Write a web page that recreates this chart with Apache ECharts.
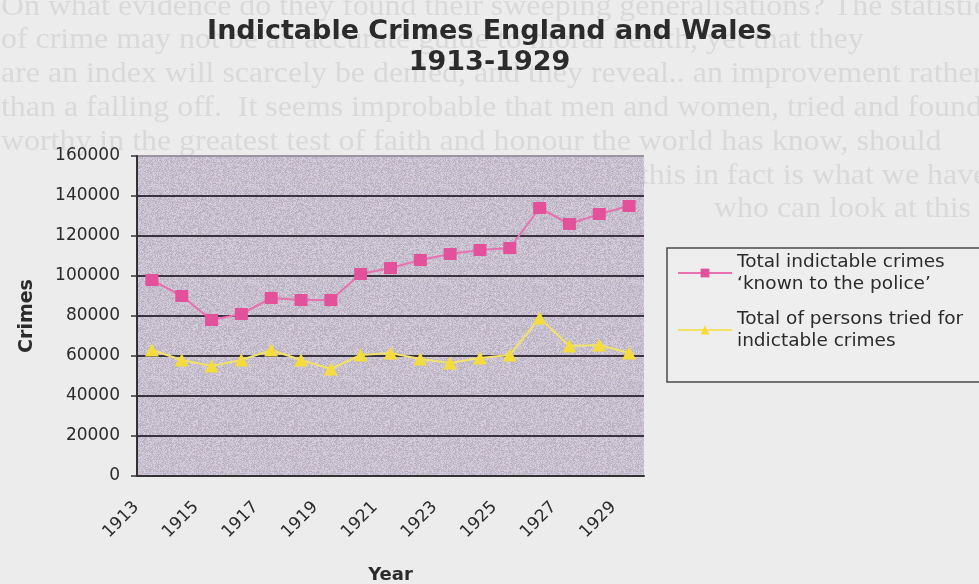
<!DOCTYPE html>
<html>
<head>
<meta charset="utf-8">
<script src="https://cdn.jsdelivr.net/npm/echarts@6/dist/echarts.min.js"></script>
<style>
  html, body { margin: 0; padding: 0; background: #ececec; }
  #chart { width: 979px; height: 584px; }
</style>
</head>
<body>
<div id="chart"></div>
<script>
// Indictable crimes in England and Wales, 1913-1929
const years = ['1913', '1914', '1915', '1916', '1917', '1918', '1919', '1920', '1921',
               '1922', '1923', '1924', '1925', '1926', '1927', '1928', '1929'];
const knownToPolice = [98000, 90000, 78000, 81000, 89000, 88000, 88000, 101000, 104000,
                       108000, 111000, 113000, 114000, 134000, 126000, 131000, 135000];
const personsTried = [63000, 58000, 55000, 58000, 63000, 58000, 53500, 60500, 61500,
                      58500, 56500, 59000, 60500, 79000, 65000, 65500, 61500];
const seriesNames = ['Total indictable crimes\n\u2018known to the police\u2019',
                     'Total of persons tried for\nindictable crimes'];
const yMin = 0, yMax = 160000, yStep = 20000;

// faint print of the page the chart sits on: [text, left, line number]
const pageLines = [
  ['On what evidence do they found their sweeping generalisations? The statistics', 1, 0],
  ['of crime may not be an accurate guide to moral health, yet that they', 1, 1],
  ['are an index will scarcely be denied, and they reveal.. an improvement rather', 1, 2],
  ['than a falling off.  It seems improbable that men and women, tried and found', 1, 3],
  ['worthy in the greatest test of faith and honour the world has know, should', 1, 4],
  ['this in fact is what we have been', 640, 5],
  ['who can look at this modern', 714, 6]
];

// speckled fill for the plot area (hashed, repeatable)
function speckle() {
  const c = document.createElement('canvas');
  c.width = 96; c.height = 96;
  const ctx = c.getContext('2d');
  const img = ctx.createImageData(96, 96);
  for (let y = 0; y < 96; y++) {
    for (let x = 0; x < 96; x++) {
      let h = Math.imul(x + 17, 374761393) ^ Math.imul(y + 91, 668265263);
      h = Math.imul(h ^ (h >>> 13), 1274126177);
      h = (h ^ (h >>> 16)) >>> 0;
      const n = ((h & 255) / 255 - 0.5) * 38;
      const t = (((h >>> 8) & 255) / 255 - 0.5) * 10;
      const i = (y * 96 + x) * 4;
      img.data[i] = 199 + n + t;
      img.data[i + 1] = 191 + n;
      img.data[i + 2] = 206 + n - t;
      img.data[i + 3] = 255;
    }
  }
  ctx.putImageData(img, 0, 0);
  return c;
}

const ink = '#2b2b2b';
const chart = echarts.init(document.getElementById('chart'));

const pageText = pageLines.map(([t, x, row]) => ({
  type: 'text', z: -100, x: x, y: 7 + row * 33.8, scaleX: 1.1,
  style: { text: t, font: '29px "Liberation Serif"', fill: '#d9d9d9', verticalAlign: 'middle' }
}));

chart.setOption({
  backgroundColor: '#ececec',
  animation: false,
  title: {
    text: 'Indictable Crimes England and Wales\n1913-1929',
    left: 'center',
    top: 11,
    textStyle: { fontFamily: 'DejaVu Sans', fontWeight: 'bold', fontSize: 27, lineHeight: 31, color: ink }
  },
  graphic: pageText.concat([
    {
      type: 'rect', z: 3,
      shape: { x: 667, y: 248, width: 330, height: 134 },
      style: { fill: '#eeeeee', stroke: '#4a4a4a', lineWidth: 1.5 }
    }
  ]),
  grid: {
    left: 137, right: 335, top: 156, bottom: 108,
    outerBoundsMode: 'none',
    show: true,
    backgroundColor: { image: speckle(), repeat: 'repeat' },
    borderWidth: 0
  },
  legend: {
    orient: 'vertical',
    left: 677, top: 239.25,
    padding: 0,
    itemGap: -10.5,
    itemWidth: 54, itemHeight: 11,
    textStyle: {
      fontFamily: 'DejaVu Sans', fontSize: 18.5, lineHeight: 22.5, color: ink,
      padding: [22.5, 0, 0, 0], backgroundColor: 'rgba(0,0,0,0)'
    },
    data: seriesNames
  },
  xAxis: {
    type: 'category',
    data: years,
    boundaryGap: true,
    name: 'Year',
    nameLocation: 'middle',
    nameGap: 90,
    nameTextStyle: { fontFamily: 'DejaVu Sans', fontWeight: 'bold', fontSize: 18, color: ink },
    axisLine: { lineStyle: { color: '#333', width: 2 } },
    axisTick: { interval: 0, length: 6, lineStyle: { color: '#333', width: 1.5 } },
    axisLabel: {
      interval: 1, rotate: 45, margin: 13, padding: [0, 22, 0, 0],
      fontFamily: 'DejaVu Sans', fontSize: 17, color: ink
    },
    splitLine: { show: false }
  },
  yAxis: {
    type: 'value',
    min: yMin, max: yMax, interval: yStep,
    name: 'Crimes',
    nameLocation: 'middle',
    nameRotate: 90,
    nameGap: 100,
    nameTextStyle: { fontFamily: 'DejaVu Sans', fontWeight: 'bold', fontSize: 19, color: ink },
    axisLine: { show: true, lineStyle: { color: '#333', width: 2 } },
    axisTick: { show: true, length: 6, lineStyle: { color: '#333', width: 1.5 } },
    axisLabel: {
      margin: 17, fontFamily: 'DejaVu Sans', fontSize: 17, color: ink,
      formatter: v => String(v)
    },
    splitLine: {
      show: true,
      lineStyle: {
        color: ['#3a3440', '#3a3440', '#3a3440', '#3a3440', '#3a3440', '#3a3440', '#3a3440', '#3a3440', '#9a94a0'],
        width: 2
      }
    }
  },
  series: [
    {
      name: seriesNames[0],
      type: 'line',
      data: knownToPolice,
      symbol: 'rect',
      symbolSize: [13, 12],
      itemStyle: { color: '#e4519b' },
      lineStyle: { color: '#e872b0', width: 2 },
      z: 5
    },
    {
      name: seriesNames[1],
      type: 'line',
      data: personsTried,
      symbol: 'triangle',
      symbolSize: [14, 13],
      itemStyle: { color: '#f3dc3c' },
      lineStyle: { color: '#f2e168', width: 2 },
      z: 4
    }
  ]
});
</script>
</body>
</html>
